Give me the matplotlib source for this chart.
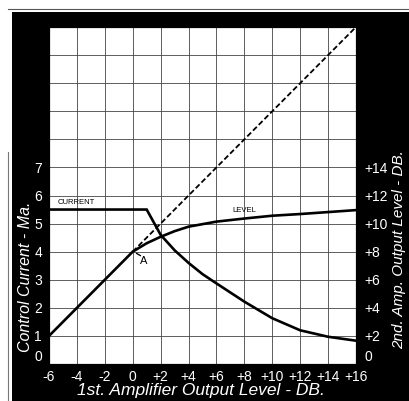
import matplotlib
matplotlib.use('Agg')
import matplotlib.pyplot as plt
from matplotlib.patches import Rectangle

plt.rcParams['font.family'] = ['Liberation Sans', 'DejaVu Sans']

# control current (mA) vs 1st amp output level (dB)
cur_x = [-6, 1.0, 2, 3, 4, 5, 6, 8, 10, 12, 14, 16]
cur_y = [5.5, 5.5, 4.6, 4.05, 3.6, 3.2, 2.87, 2.22, 1.63, 1.2, 0.97, 0.83]

# 2nd amp output level (dB)
lev_x = [-6, 0, 1, 2, 3, 4, 6, 8, 10, 12, 14, 16]
lev_db = [2, 8, 8.6, 9.06, 9.46, 9.78, 10.14, 10.36, 10.56, 10.68, 10.82, 10.96]

# no-control line (dashed)
ideal_x = [0, 16]
ideal_db = [8, 24]

x_ticks = [-6, -4, -2, 0, 2, 4, 6, 8, 10, 12, 14, 16]
x_labels = ['-6', '-4', '-2', '0', '+2', '+4', '+6', '+8', '+10', '+12', '+14', '+16']
left_ticks = [0, 1, 2, 3, 4, 5, 6, 7]
right_ticks = [0, 2, 4, 6, 8, 10, 12, 14]
right_labels = ['0', '+2', '+4', '+6', '+8', '+10', '+12', '+14']

fig = plt.figure(figsize=(4.09, 4.01), dpi=100)
fig.patch.set_facecolor('white')
# black mount around the chart
fig.patches.append(Rectangle((12/409, 0), 1, 1 - 12/401, transform=fig.transFigure,
                             facecolor='black', edgecolor='none', zorder=-5))
fig.lines.append(plt.Line2D([8/409, 8/409], [0, 0.62], transform=fig.transFigure,
                            color='#777777', lw=0.8, zorder=-5))
fig.lines.append(plt.Line2D([8/409, 1], [1 - 9/401, 1 - 9/401], transform=fig.transFigure,
                            color='#555555', lw=0.8, zorder=-5))

ax = fig.add_axes([49/409, 37/401, 307/409, 337/401])
ax.set_facecolor('white')
ax.set_xlim(-6, 16)
ax.set_ylim(0, 12)

# grid
for gx in range(-6, 17, 2):
    ax.axvline(gx, color='#444444', lw=0.6, zorder=1)
for gy in range(0, 13):
    ax.axhline(gy, color='#444444', lw=0.6, zorder=1)

ax.plot(cur_x, cur_y, color='black', lw=1.9, zorder=3, solid_joinstyle='miter')

ax.set_xticks(x_ticks)
ax.set_xticklabels(x_labels)
ax.set_yticks(left_ticks)
ax.tick_params(axis='both', length=0, colors='white', labelsize=10)
ax.tick_params(axis='x', pad=4)
ax.tick_params(axis='y', pad=5)
ax.get_yticklabels()[0].set_va('bottom')
for s in ax.spines.values():
    s.set_color('black')

ax2 = ax.twinx()
ax2.set_ylim(0, 24)
ax2.plot(lev_x, lev_db, color='black', lw=1.9, zorder=3)
ax2.plot(ideal_x, ideal_db, color='black', lw=1.3, ls=(0, (3, 1.5)), zorder=3)
ax2.set_yticks(right_ticks)
ax2.set_yticklabels(right_labels)
ax2.tick_params(axis='y', length=0, colors='white', labelsize=10, pad=6)
ax2.get_yticklabels()[0].set_va('bottom')
for s in ax2.spines.values():
    s.set_color('black')

ax.text(-5.4, 5.75, 'CURRENT', fontsize=5.5, ha='left', va='center', zorder=4)
ax.text(8.0, 5.45, 'LEVEL', fontsize=5.5, ha='center', va='center', zorder=4)
ax.plot([0.35], [3.9], marker=(2, 0, 60), color='black', ms=4, mew=1, zorder=4)
ax.text(0.8, 3.68, 'A', fontsize=8, ha='center', va='center', zorder=4)

fig.text(26/409, 0.309, 'Control Current - Ma.', rotation=90, color='white',
         fontsize=11.5, style='italic', ha='center', va='center')
fig.text(399/409, 0.377, '2nd. Amp. Output Level - DB.', rotation=90, color='white',
         fontsize=11, style='italic', ha='center', va='center')
fig.text(201/409, 11/401, '1st. Amplifier Output Level - DB.', color='white',
         fontsize=12.5, style='italic', ha='center', va='center')

fig.savefig('out.png', dpi=100, facecolor=fig.get_facecolor())
